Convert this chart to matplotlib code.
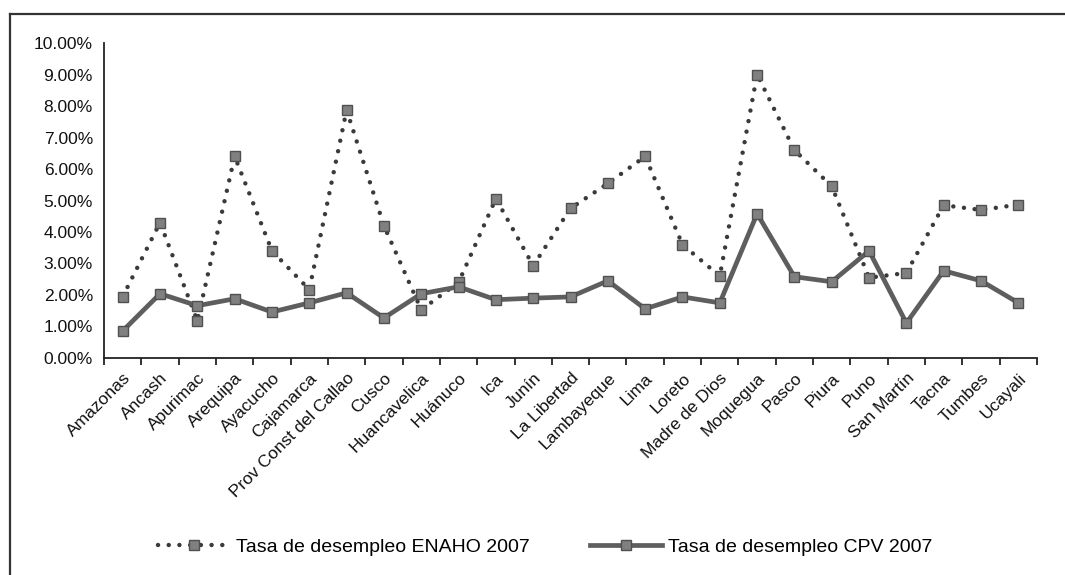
import matplotlib.pyplot as plt
import numpy as np
from matplotlib.ticker import FuncFormatter, FixedLocator

departamentos = ["Amazonas", "Ancash", "Apurimac", "Arequipa", "Ayacucho", "Cajamarca",
                 "Prov Const del Callao", "Cusco", "Huancavelica", "Huánuco", "Ica", "Junín",
                 "La Libertad", "Lambayeque", "Lima", "Loreto", "Madre de Dios", "Moquegua",
                 "Pasco", "Piura", "Puno", "San Martín", "Tacna", "Tumbes", "Ucayali"]

# tasas en %
enaho_2007 = [1.95, 4.30, 1.18, 6.40, 3.40, 2.17, 7.87, 4.20, 1.53, 2.40, 5.06, 2.93,
              4.75, 5.54, 6.40, 3.60, 2.60, 9.00, 6.60, 5.45, 2.55, 2.70, 4.85, 4.70, 4.87]
cpv_2007 = [0.86, 2.04, 1.66, 1.88, 1.46, 1.75, 2.07, 1.27, 2.04, 2.26, 1.85, 1.90,
            1.94, 2.45, 1.56, 1.94, 1.75, 4.58, 2.58, 2.42, 3.40, 1.11, 2.77, 2.45, 1.75]

plt.rcParams['font.family'] = ['Liberation Sans', 'DejaVu Sans']

fig = plt.figure(figsize=(10.65, 5.75), dpi=100)
ax = fig.add_axes([0.0977, 0.3774, 0.8760, 0.5478])

x = np.arange(len(departamentos))

ax.plot(x, enaho_2007, linestyle=(0, (0.01, 2.4)), linewidth=3.2, color='#3a3a3a',
        dash_capstyle='round', marker='s', markersize=7.5, markerfacecolor='#808080',
        markeredgecolor='#505050', markeredgewidth=1, label='Tasa de desempleo ENAHO 2007')
ax.plot(x, cpv_2007, linestyle='-', linewidth=3.4, color='#5e5e5e',
        marker='s', markersize=7.5, markerfacecolor='#808080',
        markeredgecolor='#505050', markeredgewidth=1, label='Tasa de desempleo CPV 2007')

ax.set_xlim(-0.5, len(departamentos) - 0.5)
ax.set_ylim(0, 10)
ax.set_yticks(np.arange(0, 11, 1))
ax.yaxis.set_major_formatter(FuncFormatter(lambda v, p: f"{v:.2f}%"))
ax.tick_params(axis='y', length=0, pad=8, labelsize=12.5, colors='#111111')

ax.set_xticks(x)
ax.set_xticklabels(departamentos, rotation=45, ha='right', rotation_mode='anchor',
                   fontsize=12.5, color='#111111')
ax.tick_params(axis='x', which='major', length=0, pad=9)
ax.xaxis.set_minor_locator(FixedLocator(np.arange(-0.5, len(departamentos), 1)))
ax.tick_params(axis='x', which='minor', length=5, width=1.3, direction='out', color='#222222')

for s in ['top', 'right']:
    ax.spines[s].set_visible(False)
for s in ['left', 'bottom']:
    ax.spines[s].set_linewidth(1.3)
    ax.spines[s].set_color('#222222')

fig.legend(loc='center', bbox_to_anchor=(0.512, 0.049), ncol=2, frameon=False,
           fontsize=14, handlelength=3.7, handletextpad=0.3, columnspacing=3.1)

# marco exterior (solo se ven los bordes izquierdo y superior)
fig.add_artist(plt.Line2D([10 / 1065, 10 / 1065], [0, 1 - 14 / 575], transform=fig.transFigure,
                          color='#333333', linewidth=1.6))
fig.add_artist(plt.Line2D([10 / 1065, 1], [1 - 14 / 575, 1 - 14 / 575], transform=fig.transFigure,
                          color='#333333', linewidth=1.6))

fig.savefig('out.png', dpi=100)
